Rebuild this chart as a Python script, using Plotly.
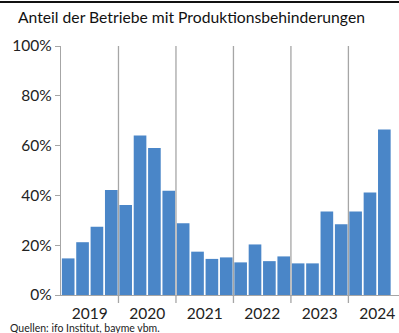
import plotly.graph_objects as go

years = ["2019", "2020", "2021", "2022", "2023", "2024"]
quarters = [f"{y} Q{q}" for y in years for q in range(1, 5)][:23]
values = [14.7, 21.2, 27.4, 42.2,
          36.1, 64.1, 59.0, 41.9,
          28.8, 17.4, 14.5, 15.1,
          13.1, 20.3, 13.6, 15.5,
          12.7, 12.7, 33.5, 28.4,
          33.5, 41.2, 66.5]
title_text = "Anteil der Betriebe mit Produktionsbehinderungen"
source_text = "Quellen: ifo Institut, bayme vbm."

W, H = 399, 333
L, R, T, B = 61, 0, 46, 38
pw, ph = W - L - R, H - T - B

xs = list(range(len(values)))
fig = go.Figure()
fig.add_trace(go.Bar(x=xs, y=[v / 100 for v in values], marker_color="#4a86c8",
                     marker_line_width=0, hovertext=quarters))

grid_col = "#a6a6a6"
shapes = []
for i in range(1, len(years)):
    xb = 4 * i - 0.5
    shapes.append(dict(type="line", xref="x", yref="paper", x0=xb, x1=xb,
                       y0=-8 / ph, y1=1, line=dict(color=grid_col, width=1.3)))
# black rule at the top (cropped header)
shapes.append(dict(type="line", xref="paper", yref="paper", x0=-L / pw, x1=1 + R / pw,
                   y0=(ph + T - 2) / ph, y1=(ph + T - 2) / ph,
                   line=dict(color="#111111", width=2)))

fig.update_layout(
    width=W, height=H,
    margin=dict(l=L, r=R, t=T, b=B),
    paper_bgcolor="white", plot_bgcolor="white",
    bargap=0.12,
    showlegend=False,
    shapes=shapes,
    font=dict(family="Lato", color="#222222"),
    annotations=[
        dict(text=title_text, xref="paper", yref="paper", x=(16 - L) / pw, y=(ph + T - 17) / ph,
             xanchor="left", yanchor="middle", showarrow=False, font=dict(size=15.7, family="Lato", color="#111111")),
        dict(text=source_text, xref="paper", yref="paper", x=(8 - L) / pw, y=-(327.5 - T - ph) / ph,
             xanchor="left", yanchor="middle", showarrow=False, font=dict(size=10.5, family="Lato", color="#222222")),
    ],
)
fig.update_xaxes(
    range=[-0.5, 23.02],
    tickvals=[4 * i + 1.5 for i in range(len(years))],
    ticktext=years,
    ticks="", showgrid=False, zeroline=False,
    showline=True, linecolor=grid_col, linewidth=1.3,
    ticklabelstandoff=4,
    tickfont=dict(size=15.5, family="Lato", color="#222222"),
)
fig.update_yaxes(
    range=[0, 1], tickvals=[0, 0.2, 0.4, 0.6, 0.8, 1.0], tickformat=".0%",
    ticks="outside", ticklen=5, tickcolor=grid_col, tickwidth=1.3,
    showgrid=False, zeroline=False,
    showline=True, linecolor=grid_col, linewidth=1.3,
    tickfont=dict(size=15.5, family="Lato", color="#222222"),
)
fig.write_html("out.html")
